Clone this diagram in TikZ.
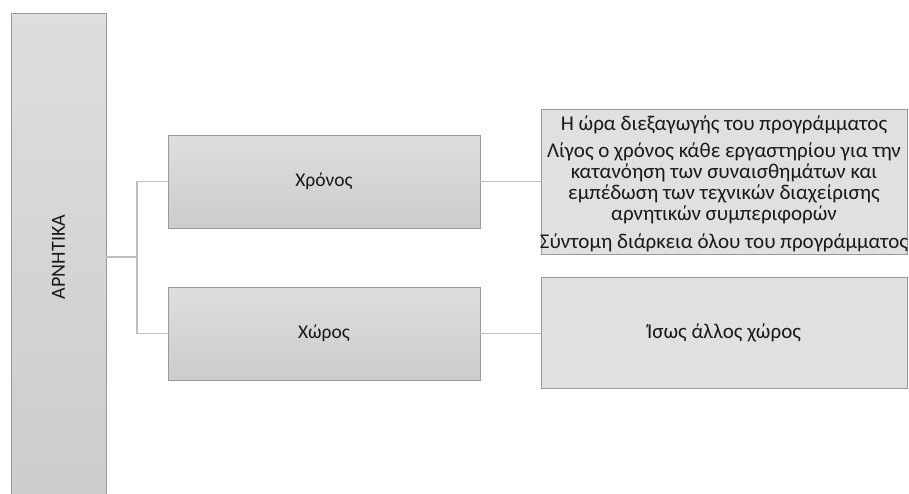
\documentclass[tikz,border=0pt]{standalone}
\usepackage{fontspec}
\setmainfont{Carlito}
\begin{document}
\begin{tikzpicture}[x=1pt,y=-1pt,
  gbox/.style={draw=black!40, line width=0.8pt, top color=black!13, bottom color=black!20, inner sep=0pt, font=\fontsize{19.5}{22}\selectfont, text=black!90},
  lbox/.style={draw=black!40, line width=0.8pt, fill=black!12, inner sep=0pt, font=\fontsize{21}{21}\selectfont, text=black!90, align=center},
  btext/.style={inner sep=0pt, font=\fontsize{21}{21}\selectfont, text=black!90, align=center},
  conn/.style={draw=black!25, line width=1.2pt}]
\useasboundingbox (0,0) rectangle (909,493);
\node[gbox, minimum width=95pt, minimum height=488pt] (root) at (58.5,257) {};
\node[rotate=90, font=\fontsize{20}{22}\selectfont, text=black!90] (roottxt) at (root.center) {ΑΡΝΗΤΙΚΑ};
\node[gbox, minimum width=312pt, minimum height=93pt] (chron) at (324,181.5) {Χρόνος};
\node[gbox, minimum width=312pt, minimum height=93pt] (space) at (324,333.5) {Χώρος};
\node[lbox, minimum width=366pt, minimum height=145pt] (r1) at (724,181.5) {};
\node[btext, anchor=north] (r1t) at (724,115.5) {Η ώρα διεξαγωγής του προγράμματος\\[6pt]
Λίγος ο χρόνος κάθε εργαστηρίου για την\\
κατανόηση των συναισθημάτων και\\
εμπέδωση των τεχνικών διαχείρισης\\
αρνητικών συμπεριφορών\\[7pt]
Σύντομη διάρκεια όλου του προγράμματος};
\node[lbox, minimum width=366pt, minimum height=111pt] (r2) at (724,332.5) {Ίσως άλλος χώρος};
\coordinate (fork) at (137,257);
\draw[conn] (root.east) -- (fork);
\draw[conn] (fork) |- (chron.west);
\draw[conn] (fork) |- (space.west);
\draw[conn] (chron.east) -- (chron.east -| r1.west);
\draw[conn] (space.east) -- (space.east -| r2.west);
\end{tikzpicture}
\end{document}
